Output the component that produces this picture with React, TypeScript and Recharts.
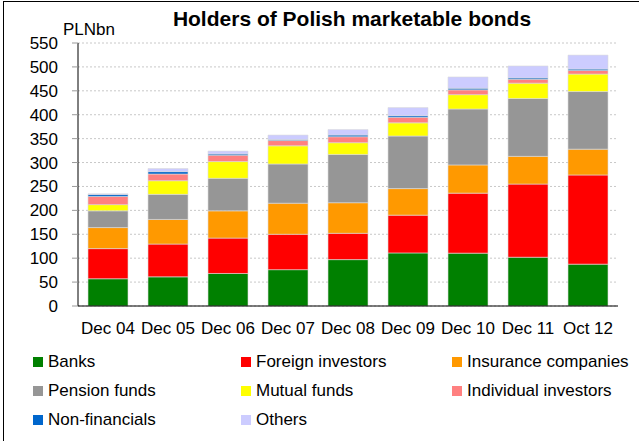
import React from 'react';
import { BarChart, Bar, XAxis, YAxis, CartesianGrid } from 'recharts';

const categories = ['Dec 04', 'Dec 05', 'Dec 06', 'Dec 07', 'Dec 08', 'Dec 09', 'Dec 10', 'Dec 11', 'Oct 12'];

const banks = [57, 61, 68, 76, 97, 111, 110.5, 102, 87.5];
const foreignInvestors = [63, 68.5, 74, 74, 55, 79, 125.5, 153, 186.5];
const insuranceCompanies = [44, 51.5, 57, 65, 64, 55.5, 59, 58, 54];
const pensionFunds = [35, 52.5, 68, 82, 101, 110, 117, 121, 120.5];
const mutualFunds = [13, 28.5, 35, 38, 24.5, 27.5, 30, 32, 36.5];
const individualInvestors = [17, 14, 13.5, 11, 12.5, 11.6, 10, 8, 7.6];
const nonFinancials = [4, 5, 2.5, 2, 3.5, 3.4, 3.5, 3, 2.8];
const others = [1.5, 6.5, 6, 9.5, 11.5, 17, 23.5, 25, 29.3];

const yTicks = [0, 50, 100, 150, 200, 250, 300, 350, 400, 450, 500, 550];
const edgeTicks = [0, 1, 2, 3, 4, 5, 6, 7, 8, 9];

const series = [
  { key: 'banks', name: 'Banks', color: '#008000', values: banks },
  { key: 'foreign', name: 'Foreign investors', color: '#ff0000', values: foreignInvestors },
  { key: 'insurance', name: 'Insurance companies', color: '#ff9900', values: insuranceCompanies },
  { key: 'pension', name: 'Pension funds', color: '#969696', values: pensionFunds },
  { key: 'mutual', name: 'Mutual funds', color: '#ffff00', values: mutualFunds },
  { key: 'individual', name: 'Individual investors', color: '#ff8080', values: individualInvestors },
  { key: 'nonfin', name: 'Non-financials', color: '#0066cc', values: nonFinancials },
  { key: 'others', name: 'Others', color: '#ccccff', values: others },
];

const data = categories.map((cat, i) => {
  const row: Record<string, string | number> = { cat, idx: i + 0.5 };
  series.forEach((s) => {
    row[s.key] = s.values[i];
  });
  return row;
});

const FONT = '"Liberation Sans", Arial, sans-serif';

const App: React.FC = () => {
  const legendCols = [33, 241, 452];
  const legendRows = [362, 391, 420];

  return (
    <div
      style={{
        position: 'absolute',
        left: 0,
        top: 0,
        width: 639,
        height: 441,
        background: '#fff',
        fontFamily: FONT,
        overflow: 'hidden',
      }}
    >
      <div
        style={{
          position: 'absolute',
          left: 3,
          top: 1,
          width: 640,
          height: 445,
          borderLeft: '1px solid #000',
          borderTop: '1px solid #000',
        }}
      />
      <div
        style={{
          position: 'absolute',
          left: 0,
          width: 704,
          top: 7,
          textAlign: 'center',
          fontWeight: 'bold',
          fontSize: 21,
          color: '#000',
        }}
      >
        Holders of Polish marketable bonds
      </div>
      <div style={{ position: 'absolute', left: 63, top: 20, fontSize: 17, color: '#000' }}>PLNbn</div>

      <BarChart
        width={639}
        height={441}
        data={data}
        margin={{ top: 43, right: 21, left: 18, bottom: 105 }}
        barSize={40}
        style={{ position: 'absolute', left: 0, top: 0 }}
      >
        <CartesianGrid vertical={false} stroke="#c8c8c8" strokeDasharray="2 2" />
        {/* category boundary ticks, like the source chart */}
        <XAxis
          dataKey="idx"
          xAxisId="edges"
          type="number"
          domain={[0, 9]}
          ticks={edgeTicks}
          height={1}
          axisLine={false}
          tick={false}
          tickSize={7}
          tickLine={{ stroke: '#999' }}
        />
        <XAxis
          dataKey="cat"
          xAxisId="cat"
          height={29}
          tickLine={false}
          tickSize={0}
          tickMargin={16}
          axisLine={{ stroke: '#000' }}
          tick={{ fill: '#000', fontSize: 17, fontFamily: FONT }}
          interval={0}
        />
        <YAxis
          width={60}
          domain={[0, 550]}
          ticks={yTicks}
          interval={0}
          tickSize={6}
          tickMargin={14}
          axisLine={{ stroke: '#000' }}
          tickLine={{ stroke: '#999' }}
          tick={{ fill: '#000', fontSize: 17, fontFamily: FONT }}
        />
        {series.map((s) => (
          <Bar
            key={s.key}
            dataKey={s.key}
            name={s.name}
            stackId="a"
            xAxisId="cat"
            fill={s.color}
            stroke="#dcdcdc"
            strokeWidth={0.6}
            isAnimationActive={false}
          />
        ))}
      </BarChart>

      {series.map((s, i) => (
        <div
          key={s.key}
          style={{
            position: 'absolute',
            left: legendCols[i % 3],
            top: legendRows[Math.floor(i / 3)] - 11,
            height: 22,
            display: 'flex',
            alignItems: 'center',
            fontSize: 17,
            color: '#000',
            whiteSpace: 'nowrap',
          }}
        >
          <span style={{ display: 'inline-block', width: 10, height: 10, background: s.color, marginRight: 5 }} />
          {s.name}
        </div>
      ))}
    </div>
  );
};

export default App;
